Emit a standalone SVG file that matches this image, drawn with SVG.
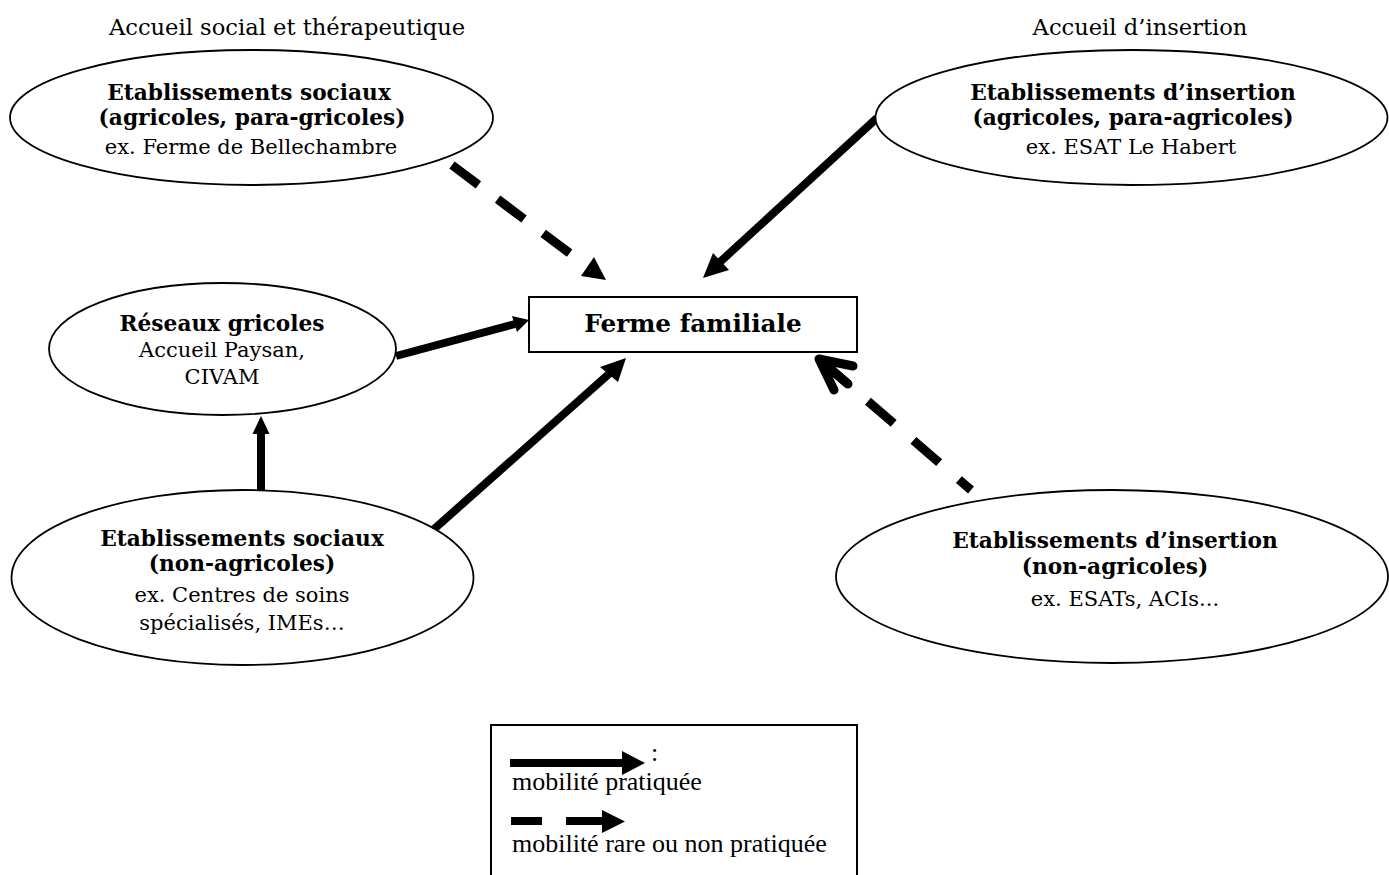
<svg xmlns="http://www.w3.org/2000/svg" width="1389" height="875" viewBox="0 0 1389 875">
<style>
.ell{fill:#fff;stroke:#000;stroke-width:1.8}
.t{font-family:"DejaVu Serif","Liberation Serif",serif;fill:#000;text-anchor:middle}
.b{font-weight:bold;font-size:21.7px}
.r{font-size:21px}
.ttl{font-size:22.6px}
.sol{stroke:#000;stroke-width:8;fill:none}
.dsh{stroke:#000;stroke-width:9;fill:none;stroke-dasharray:33 24}
.hd{fill:#000}
.lg{font-family:"Liberation Serif","Times New Roman",serif;font-size:26px;fill:#000}
</style>
<rect width="1389" height="875" fill="#fff"/>
<text class="t ttl" x="287" y="35">Accueil social et thérapeutique</text>
<text class="t ttl" x="1140" y="35">Accueil d’insertion</text>

<g id="connectors">
  <!-- E1 -> Ferme (dashed) -->
  <path class="dsh" d="M452,165 L588,267"/>
  <polygon class="hd" points="606,280 581,276 594,257"/>
  <!-- E2 -> Ferme (solid) -->
  <path class="sol" d="M877,118 L720,262"/>
  <polygon class="hd" points="703,278 713,253 729,270"/>
  <!-- E3 -> Ferme -->
  <path class="sol" d="M396,356 L515,324"/>
  <polygon class="hd" points="529,320 512,316 517,332"/>
  <!-- E4 -> Ferme -->
  <path class="sol" d="M433,530 L610,373"/>
  <polygon class="hd" points="626,358 600,367 618,382"/>
  <!-- E4 -> E3 -->
  <path class="sol" d="M261,490 L261,432"/>
  <polygon class="hd" points="261,416 252.5,434 269.5,434"/>
  <!-- E5 -> Ferme (dashed, open head) -->
  <path class="dsh" d="M971,490 L820,360" style="stroke-dasharray:34 26;stroke-dashoffset:18"/>
  <path d="M853,366 L819,359 L834,390 M819,359 L848,384" stroke="#000" stroke-width="9" fill="none" stroke-linecap="round" stroke-linejoin="round"/>
</g>

<g id="node-etab-sociaux-agricoles">
  <ellipse class="ell" cx="251.5" cy="117.5" rx="241.5" ry="67.5"/>
  <text class="t b" x="249" y="100">Etablissements sociaux</text>
  <text class="t b" x="252" y="125">(agricoles, para-gricoles)</text>
  <text class="t r" x="251" y="154">ex. Ferme de Bellechambre</text>
</g>

<g id="node-etab-insertion-agricoles">
  <ellipse class="ell" cx="1131.5" cy="117.5" rx="256" ry="67.5"/>
  <text class="t b" x="1133" y="100">Etablissements d’insertion</text>
  <text class="t b" x="1133" y="125">(agricoles, para-agricoles)</text>
  <text class="t r" x="1131" y="154">ex. ESAT Le Habert</text>
</g>

<g id="node-reseaux">
  <ellipse class="ell" cx="222.5" cy="349" rx="173.5" ry="66"/>
  <text class="t b" x="222" y="331">Réseaux gricoles</text>
  <text class="t r" x="222" y="357">Accueil Paysan,</text>
  <text class="t r" x="222" y="384">CIVAM</text>
</g>

<g id="node-ferme">
  <rect x="529" y="297" width="328" height="55" fill="#fff" stroke="#000" stroke-width="2"/>
  <text class="t" x="693" y="332" font-weight="bold" font-size="24.7px">Ferme familiale</text>
</g>

<g id="node-etab-sociaux-non-agricoles">
  <ellipse class="ell" cx="242.5" cy="577.5" rx="231" ry="87.5"/>
  <text class="t b" x="242" y="546">Etablissements sociaux</text>
  <text class="t b" x="242" y="571">(non-agricoles)</text>
  <text class="t r" x="242" y="602">ex. Centres de soins</text>
  <text class="t r" x="242" y="630">spécialisés, IMEs…</text>
</g>

<g id="node-etab-insertion-non-agricoles">
  <ellipse class="ell" cx="1112" cy="576.5" rx="276" ry="86.5"/>
  <text class="t b" x="1115" y="548">Etablissements d’insertion</text>
  <text class="t b" x="1115" y="574">(non-agricoles)</text>
  <text class="t r" x="1125" y="606">ex. ESATs, ACIs...</text>
</g>

<g id="legend">
  <rect x="491" y="725" width="366" height="170" fill="#fff" stroke="#000" stroke-width="2"/>
  <line x1="510" y1="763" x2="623" y2="763" stroke="#000" stroke-width="8"/>
  <polygon class="hd" points="645,763 622,751 622,775"/>
  <text class="lg" x="651" y="761">:</text>
  <text class="lg" x="512" y="790">mobilité pratiquée</text>
  <rect x="511" y="817" width="31" height="8" fill="#000"/>
  <rect x="566" y="817" width="37" height="8" fill="#000"/>
  <polygon class="hd" points="625,821.5 602,810 602,833"/>
  <text class="lg" x="512" y="852">mobilité rare ou non pratiquée</text>
</g>
</svg>
